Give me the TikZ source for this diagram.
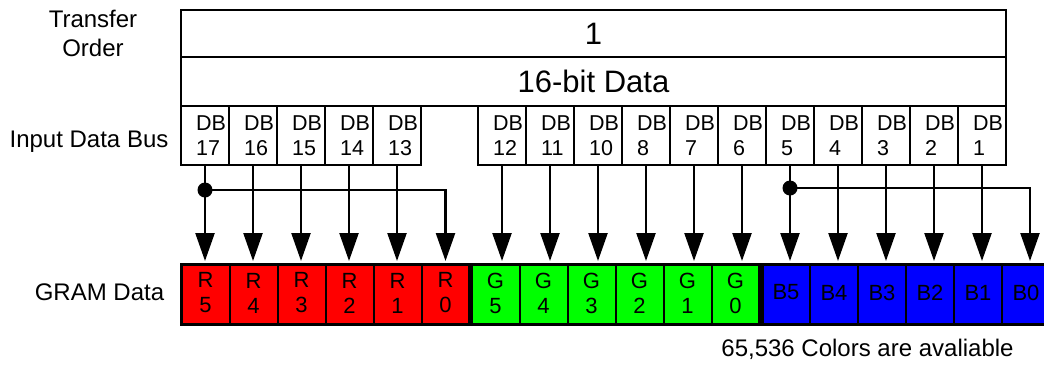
\documentclass[tikz,border=0pt]{standalone}
\usepackage{fontspec}
\setmainfont{Liberation Sans}
\usetikzlibrary{arrows.meta}
\definecolor{gramR}{RGB}{255,0,0}
\definecolor{gramG}{RGB}{0,255,0}
\definecolor{gramB}{RGB}{0,0,255}
\begin{document}
\begin{tikzpicture}[x=1pt,y=-1pt,
  lbl/.style={font=\fontsize{24}{29}\selectfont, inner sep=0pt, align=center},
  bigbox/.style={draw, line width=1.8pt, minimum width=825pt, inner sep=0pt, outer sep=0pt, font=\fontsize{31}{36}\selectfont},
  dbbox/.style={draw, line width=2pt, minimum width=48pt, minimum height=59pt, inner sep=0pt, outer sep=0pt},
  dbtxt/.style={font=\fontsize{21.5}{25}\selectfont, inner sep=0pt, anchor=base west},
  cell/.style={draw, line width=2pt, minimum width=48pt, minimum height=60pt, inner sep=0pt, outer sep=0pt},
  celltxt/.style={font=\fontsize{22}{25}\selectfont, inner sep=0pt, align=center},
  arr/.style={line width=2.4pt, -{Triangle[length=28pt,width=19pt]}, shorten >=3pt},
  grp/.style={line width=3pt}
]
\useasboundingbox (0,0) rectangle (1044,365);
\clip (0,0) rectangle (1044,365);
\fill[white] (0,0) rectangle (1044,365);

% left labels
\node[lbl] (lorder) at (93,33) {Transfer\\Order};
\node[lbl, anchor=base] (lbus) at (89,147) {Input Data Bus};
\node[lbl, anchor=base] (lgram) at (99.5,300) {GRAM Data};

% top boxes
\node[bigbox, minimum height=47pt] (order) at (593.5,33.5) {1};
\node[bigbox, minimum height=49pt] (data) at (593.5,81.5) {16-bit Data};

% input data bus cells
\foreach \n [count=\k from 0] in {17,16,15,14,13} {
  \node[dbbox] (db\n) at ({205+48*\k},135.5) {};
  \node[dbtxt] (dbl\n) at ({196+48*\k},130) {DB};
  \node[dbtxt] (dbn\n) at ({196+48*\k},155) {\n};
}
\foreach \n [count=\k from 0] in {12,11,10,8,7,6,5,4,3,2,1} {
  \node[dbbox] (db\n) at ({502+48*\k},135.5) {};
  \node[dbtxt] (dbl\n) at ({493+48*\k},130) {DB};
  \node[dbtxt] (dbn\n) at ({493+48*\k},155) {\n};
}

% GRAM cells
\foreach \n [count=\k from 0] in {5,4,3,2,1,0} {
  \node[cell, fill=gramR] (r\n) at ({205.5+48*\k},294) {};
  \node[celltxt] (rt\n) at ({205.5+48*\k},293) {R\\\n};
  \node[cell, fill=gramG] (g\n) at ({495.5+48*\k},294) {};
  \node[celltxt] (gt\n) at ({495.5+48*\k},293) {G\\\n};
  \node[cell, fill=gramB] (b\n) at ({786+48*\k},294) {};
  \node[celltxt] (bt\n) at ({786+48*\k},292.5) {B\n};
}
\draw[grp] (r5.north west) rectangle (r0.south east);
\draw[grp] (g5.north west) rectangle (g0.south east);
\draw[grp] (b5.north west) rectangle (b0.south east);

% connectors
\foreach \s/\t in {17/r5,16/r4,15/r3,14/r2,13/r1,12/g5,11/g4,10/g3,8/g2,7/g1,6/g0,5/b5,4/b4,3/b3,2/b2,1/b1} {
  \draw[arr] (db\s.south) -- (db\s.south |- \t.north);
}
\path (db17.south) ++(0,25) coordinate (j1);
\path (db5.south) ++(0,23) coordinate (j2);
\draw[arr] (j1) -| (r0.north);
\draw[arr] (j2) -| ([xshift=4pt]b0.north);
\fill (j1) circle (7.5pt);
\fill (j2) circle (7.5pt);

% note
\node[font=\fontsize{24}{28}\selectfont, inner sep=0pt, anchor=base] (note) at (867.5,356) {65,536 Colors are avaliable};
\end{tikzpicture}
\end{document}
